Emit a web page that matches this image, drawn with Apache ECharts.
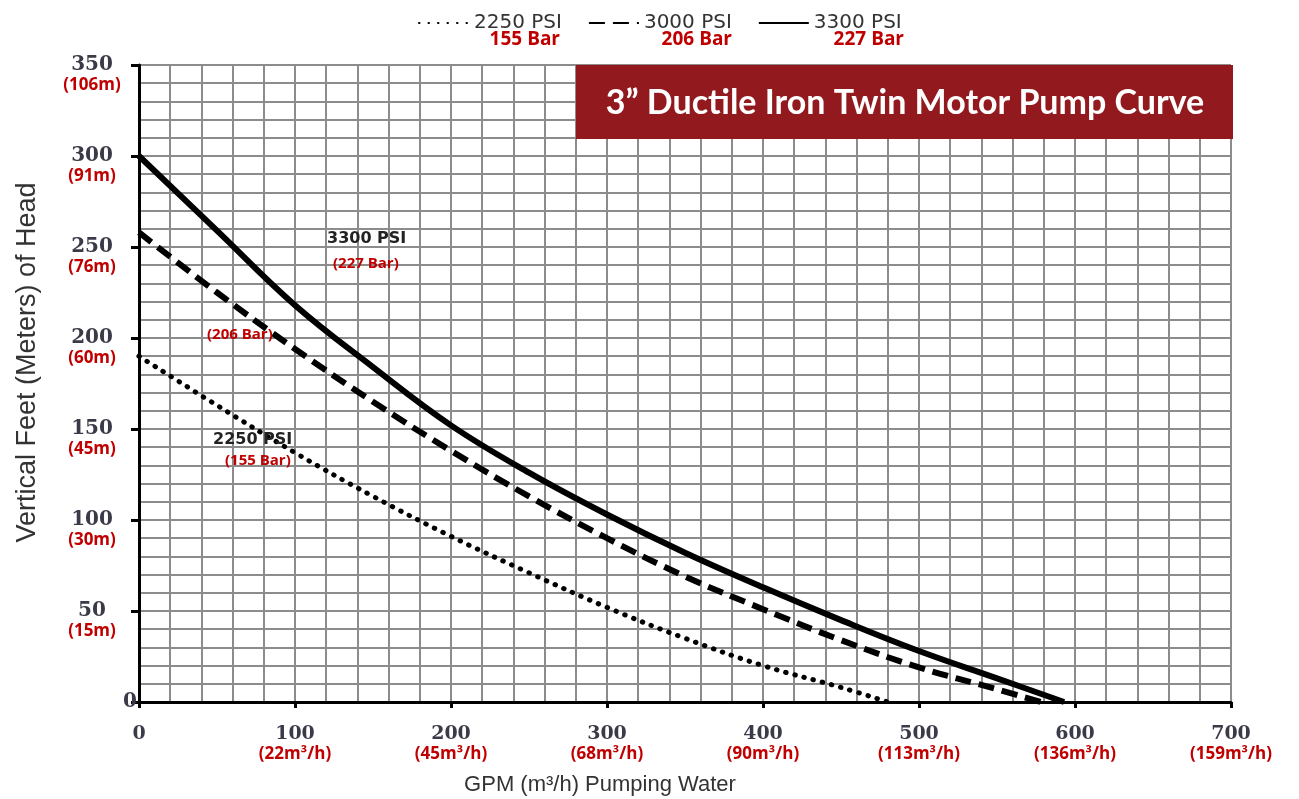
<!DOCTYPE html>
<html>
<head>
<meta charset="utf-8">
<script src="https://cdn.jsdelivr.net/npm/echarts@6/dist/echarts.min.js"></script>
<style>
  html, body { margin: 0; padding: 0; background: #fff; }
  #main { width: 1299px; height: 799px; }
</style>
</head>
<body>
<div id="main"></div>
<script>
// curves (GPM -> feet of head)
const flow2250 = [0, 50, 100, 150, 200, 250, 300, 350, 400, 450, 480]
const head2250 = [190, 163, 137, 113, 91, 71, 52, 35, 20, 8, 0]
const flow3000 = [0, 50, 100, 150, 200, 250, 300, 350, 400, 450, 500, 550, 578]
const head3000 = [258, 225, 194, 165, 138, 113, 90, 69, 51, 34, 19, 7, 0]
const flow3300 = [0, 50, 100, 150, 200, 250, 300, 350, 400, 450, 500, 550, 593]
const head3300 = [300, 259, 218, 184, 152, 126, 103, 82, 63, 45, 28, 13, 0]

const seriesNames = ['2250 PSI', '3000 PSI', '3300 PSI']
const barNames = ['155 Bar', '206 Bar', '227 Bar']

// secondary (metric) tick labels
const xMetric = ['', '(22m³/h)', '(45m³/h)', '(68m³/h)', '(90m³/h)', '(113m³/h)', '(136m³/h)', '(159m³/h)']
const yMetric = ['', '(15m)', '(30m)', '(45m)', '(60m)', '(76m)', '(91m)', '(106m)']

const red = '#c00000'
const numFont = 'DejaVu Serif'
const subFont = 'Open Sans'

function pairs (xs, ys) {
    return xs.map((x, i) => [x, ys[i]])
}

let myChart = echarts.init(document.getElementById('main'))

let option = {
    animation: false,
    backgroundColor: '#fff',
    grid: {left: 139, right: 68, top: 65, bottom: 97, containLabel: false, outerBoundsMode: 'none'},
    legend: {
        data: seriesNames,
        left: 413,
        top: 8,
        itemWidth: 50,
        itemHeight: 14,
        itemGap: 26,
        itemStyle: {opacity: 0},
        textStyle: {fontFamily: 'DejaVu Sans', fontSize: 20, color: '#333'}
    },
    xAxis: {
        type: 'value',
        min: 0,
        max: 700,
        interval: 100,
        name: 'GPM (m³/h) Pumping Water',
        nameLocation: 'middle',
        nameGap: 72,
        nameMoveOverlap: false,
        nameTextStyle: {fontFamily: 'Liberation Sans', fontSize: 22, color: '#333', padding: [0, 170, 0, 0]},
        axisLine: {lineStyle: {color: '#000', width: 3}},
        axisTick: {show: true, length: 6, lineStyle: {color: '#000', width: 3}},
        minorTick: {show: false, splitNumber: 5},
        splitLine: {lineStyle: {color: '#8c8c8c', width: 2}},
        minorSplitLine: {show: true, lineStyle: {color: '#8c8c8c', width: 2}},
        axisLabel: {
            margin: 22,
            formatter: (v) => {
                let m = xMetric[v / 100]
                return m ? '{v|' + v + '}\n{m|' + m + '}' : '{v|' + v + '}'
            },
            rich: {
                v: {fontFamily: numFont, fontWeight: 'bold', fontSize: 19, color: '#3a3a48', lineHeight: 20},
                m: {fontFamily: subFont, fontWeight: 'bold', fontSize: 17, color: red, lineHeight: 20}
            }
        }
    },
    yAxis: {
        type: 'value',
        min: 0,
        max: 350,
        interval: 50,
        name: 'Vertical Feet (Meters) of Head',
        nameLocation: 'middle',
        nameGap: 98,
        nameMoveOverlap: false,
        nameTextStyle: {fontFamily: 'Liberation Sans', fontSize: 27, color: '#333', padding: [0, 0, 0, 42]},
        axisLine: {show: true, lineStyle: {color: '#000', width: 3}},
        axisTick: {show: true, length: 8, lineStyle: {color: '#000', width: 3}},
        minorTick: {show: false, splitNumber: 5},
        splitLine: {lineStyle: {color: '#8c8c8c', width: 2}},
        minorSplitLine: {show: true, lineStyle: {color: '#8c8c8c', width: 2}},
        axisLabel: {
            margin: 47,
            align: 'center',
            padding: [19, 0, 0, 0],
            formatter: (v) => {
                let m = yMetric[v / 50]
                return m ? '{v|' + v + '}\n{m|' + m + '}' : '{z|' + v + '}'
            },
            rich: {
                v: {fontFamily: numFont, fontWeight: 'bold', fontSize: 20, color: '#3a3a48', lineHeight: 22},
                z: {fontFamily: numFont, fontWeight: 'bold', fontSize: 20, color: '#3a3a48', lineHeight: 22, padding: [0, 0, 19, 76]},
                m: {fontFamily: subFont, fontWeight: 'bold', fontSize: 17, color: red, lineHeight: 20}
            }
        }
    },
    series: [{
        name: seriesNames[0],
        type: 'line',
        smooth: 0.4,
        symbol: 'none',
        data: pairs(flow2250, head2250),
        lineStyle: {color: '#000', width: 5, type: [0.5, 9], cap: 'round'},
        itemStyle: {color: '#000'}
    }, {
        name: seriesNames[1],
        type: 'line',
        smooth: 0.4,
        symbol: 'none',
        data: pairs(flow3000, head3000),
        lineStyle: {color: '#000', width: 6, type: [16, 8]},
        itemStyle: {color: '#000'}
    }, {
        name: seriesNames[2],
        type: 'line',
        smooth: 0.4,
        symbol: 'none',
        data: pairs(flow3300, head3300),
        lineStyle: {color: '#000', width: 6},
        itemStyle: {color: '#000'}
    }],
    graphic: [
        // title box
        {type: 'rect', left: 576, top: 65, z: 10, shape: {width: 657, height: 74}, style: {fill: '#921a1e'}},
        {type: 'text', x: 905, y: 103, z: 11, style: {
            text: '3” Ductile Iron Twin Motor Pump Curve', fill: '#fff',
            font: 'bold 34px Lato', align: 'center', verticalAlign: 'middle'
        }},
        // bar values under the legend
        {type: 'text', x: 560, y: 40, z: 11, style: {text: barNames[0], fill: red, font: 'bold 19px "Open Sans"', align: 'right', verticalAlign: 'middle'}},
        {type: 'text', x: 732, y: 40, z: 11, style: {text: barNames[1], fill: red, font: 'bold 19px "Open Sans"', align: 'right', verticalAlign: 'middle'}},
        {type: 'text', x: 904, y: 40, z: 11, style: {text: barNames[2], fill: red, font: 'bold 19px "Open Sans"', align: 'right', verticalAlign: 'middle'}},
        // labels on the curves
        {type: 'text', x: 327, y: 239, z: 11, style: {text: '3300 PSI', fill: '#222', font: 'bold 16px "DejaVu Sans"', verticalAlign: 'middle'}},
        {type: 'text', x: 333, y: 264, z: 11, style: {text: '(227 Bar)', fill: red, font: 'bold 15px "Open Sans"', verticalAlign: 'middle'}},
        {type: 'text', x: 207, y: 335, z: 11, style: {text: '(206 Bar)', fill: red, font: 'bold 15px "Open Sans"', verticalAlign: 'middle'}},
        {type: 'text', x: 213, y: 440, z: 11, style: {text: '2250 PSI', fill: '#222', font: 'bold 16px "DejaVu Sans"', verticalAlign: 'middle'}},
        {type: 'text', x: 225, y: 461, z: 11, style: {text: '(155 Bar)', fill: red, font: 'bold 15px "Open Sans"', verticalAlign: 'middle'}}
    ]
}
myChart.setOption(option)
</script>
</body>
</html>
